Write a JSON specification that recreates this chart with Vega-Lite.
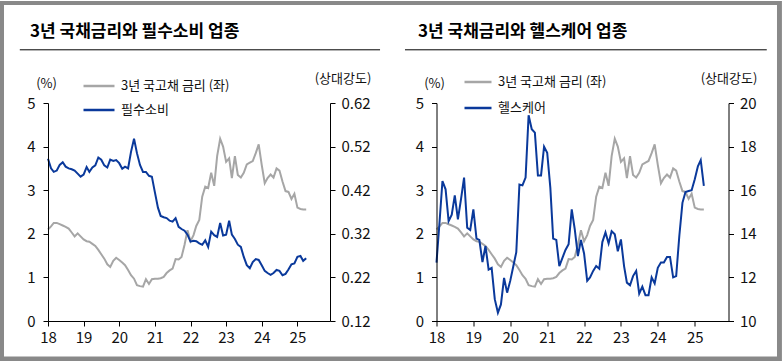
{
  "$schema": "https://vega.github.io/schema/vega-lite/v6.json",
  "background": "white",
  "padding": 0,
  "bounds": "flush",
  "data": {"values": [
    {"d":"2018-01-01","r":2.10,"s":0.492,"h":12.68},
    {"d":"2018-02-01","r":2.17,"s":0.470,"h":14.60},
    {"d":"2018-03-01","r":2.25,"s":0.462,"h":16.42},
    {"d":"2018-04-01","r":2.25,"s":0.465,"h":16.04},
    {"d":"2018-05-01","r":2.22,"s":0.478,"h":14.58},
    {"d":"2018-06-01","r":2.19,"s":0.484,"h":14.88},
    {"d":"2018-07-01","r":2.16,"s":0.474,"h":15.76},
    {"d":"2018-08-01","r":2.12,"s":0.470,"h":14.66},
    {"d":"2018-09-01","r":2.03,"s":0.468,"h":15.60},
    {"d":"2018-10-01","r":1.94,"s":0.465,"h":16.58},
    {"d":"2018-11-01","r":2.01,"s":0.458,"h":14.28},
    {"d":"2018-12-01","r":1.94,"s":0.451,"h":14.18},
    {"d":"2019-01-01","r":1.87,"s":0.456,"h":15.12},
    {"d":"2019-02-01","r":1.83,"s":0.473,"h":13.78},
    {"d":"2019-03-01","r":1.82,"s":0.462,"h":13.72},
    {"d":"2019-04-01","r":1.77,"s":0.472,"h":12.70},
    {"d":"2019-05-01","r":1.72,"s":0.477,"h":13.44},
    {"d":"2019-06-01","r":1.63,"s":0.495,"h":12.36},
    {"d":"2019-07-01","r":1.53,"s":0.490,"h":12.44},
    {"d":"2019-08-01","r":1.43,"s":0.477,"h":11.00},
    {"d":"2019-09-01","r":1.30,"s":0.472,"h":10.38},
    {"d":"2019-10-01","r":1.24,"s":0.490,"h":10.76},
    {"d":"2019-11-01","r":1.38,"s":0.487,"h":11.98},
    {"d":"2019-12-01","r":1.45,"s":0.489,"h":11.30},
    {"d":"2020-01-01","r":1.40,"s":0.482,"h":11.84},
    {"d":"2020-02-01","r":1.34,"s":0.469,"h":12.52},
    {"d":"2020-03-01","r":1.28,"s":0.474,"h":13.16},
    {"d":"2020-04-01","r":1.17,"s":0.470,"h":16.26},
    {"d":"2020-05-01","r":1.05,"s":0.508,"h":16.22},
    {"d":"2020-06-01","r":0.97,"s":0.538,"h":16.58},
    {"d":"2020-07-01","r":0.82,"s":0.505,"h":19.44},
    {"d":"2020-08-01","r":0.80,"s":0.478,"h":18.80},
    {"d":"2020-09-01","r":0.79,"s":0.462,"h":18.64},
    {"d":"2020-10-01","r":0.96,"s":0.462,"h":16.68},
    {"d":"2020-11-01","r":0.85,"s":0.453,"h":16.68},
    {"d":"2020-12-01","r":0.96,"s":0.451,"h":18.00},
    {"d":"2021-01-01","r":0.97,"s":0.415,"h":17.72},
    {"d":"2021-02-01","r":0.97,"s":0.380,"h":16.12},
    {"d":"2021-03-01","r":0.98,"s":0.361,"h":13.78},
    {"d":"2021-04-01","r":1.01,"s":0.358,"h":13.72},
    {"d":"2021-05-01","r":1.10,"s":0.356,"h":12.52},
    {"d":"2021-06-01","r":1.16,"s":0.350,"h":12.90},
    {"d":"2021-07-01","r":1.20,"s":0.348,"h":13.26},
    {"d":"2021-08-01","r":1.42,"s":0.356,"h":13.52},
    {"d":"2021-09-01","r":1.41,"s":0.336,"h":15.12},
    {"d":"2021-10-01","r":1.47,"s":0.331,"h":14.20},
    {"d":"2021-11-01","r":1.75,"s":0.327,"h":12.98},
    {"d":"2021-12-01","r":2.08,"s":0.318,"h":13.72},
    {"d":"2022-01-01","r":1.83,"s":0.302,"h":13.10},
    {"d":"2022-02-01","r":1.97,"s":0.304,"h":11.84},
    {"d":"2022-03-01","r":2.18,"s":0.303,"h":12.00},
    {"d":"2022-04-01","r":2.32,"s":0.298,"h":12.30},
    {"d":"2022-05-01","r":2.85,"s":0.295,"h":12.52},
    {"d":"2022-06-01","r":3.08,"s":0.305,"h":12.40},
    {"d":"2022-07-01","r":3.05,"s":0.290,"h":13.62},
    {"d":"2022-08-01","r":3.40,"s":0.325,"h":14.06},
    {"d":"2022-09-01","r":3.10,"s":0.317,"h":13.56},
    {"d":"2022-10-01","r":3.78,"s":0.313,"h":14.12},
    {"d":"2022-11-01","r":4.18,"s":0.345,"h":13.98},
    {"d":"2022-12-01","r":4.00,"s":0.316,"h":13.20},
    {"d":"2023-01-01","r":3.65,"s":0.318,"h":13.74},
    {"d":"2023-02-01","r":3.73,"s":0.350,"h":12.52},
    {"d":"2023-03-01","r":3.28,"s":0.318,"h":11.76},
    {"d":"2023-04-01","r":3.78,"s":0.308,"h":11.64},
    {"d":"2023-05-01","r":3.35,"s":0.295,"h":12.06},
    {"d":"2023-06-01","r":3.29,"s":0.290,"h":12.30},
    {"d":"2023-07-01","r":3.40,"s":0.267,"h":11.26},
    {"d":"2023-08-01","r":3.59,"s":0.248,"h":11.58},
    {"d":"2023-09-01","r":3.63,"s":0.241,"h":11.18},
    {"d":"2023-10-01","r":3.67,"s":0.255,"h":11.18},
    {"d":"2023-11-01","r":3.85,"s":0.262,"h":12.00},
    {"d":"2023-12-01","r":4.05,"s":0.260,"h":11.72},
    {"d":"2024-01-01","r":3.58,"s":0.248,"h":12.44},
    {"d":"2024-02-01","r":3.16,"s":0.235,"h":12.68},
    {"d":"2024-03-01","r":3.28,"s":0.230,"h":12.68},
    {"d":"2024-04-01","r":3.36,"s":0.226,"h":12.94},
    {"d":"2024-05-01","r":3.29,"s":0.230,"h":12.94},
    {"d":"2024-06-01","r":3.50,"s":0.237,"h":12.00},
    {"d":"2024-07-01","r":3.45,"s":0.235,"h":12.06},
    {"d":"2024-08-01","r":3.20,"s":0.225,"h":13.90},
    {"d":"2024-09-01","r":2.98,"s":0.228,"h":15.42},
    {"d":"2024-10-01","r":2.96,"s":0.238,"h":15.92},
    {"d":"2024-11-01","r":2.80,"s":0.250,"h":15.96},
    {"d":"2024-12-01","r":2.92,"s":0.252,"h":16.00},
    {"d":"2025-01-01","r":2.60,"s":0.267,"h":16.50},
    {"d":"2025-02-01","r":2.57,"s":0.269,"h":17.10},
    {"d":"2025-03-01","r":2.56,"s":0.258,"h":17.38},
    {"d":"2025-04-01","r":2.56,"s":0.264,"h":16.20}
  ]},
  "hconcat": [
    {
      "width": 282,
      "height": 218,
      "title": {"text": "3년 국채금리와 필수소비 업종", "anchor": "start", "frame": "group", "dx": -18, "offset": -40.3},
      "layer": [
        {
          "layer": [
            {
              "data": {"values": [{}]},
              "mark": {"type": "rect", "color": "#898989", "clip": false},
              "encoding": {
                "x": {"datum": {"year": 2016, "month": 8, "date": 27, "utc": true}, "type": "temporal", "scale": {"type": "utc", "domain": [{"year": 2018, "month": 1, "date": 1, "utc": true}, {"year": 2025, "month": 12, "date": 1, "utc": true}]}},
                "x2": {"datum": {"year": 2038, "month": 8, "date": 8, "utc": true}},
                "y": {"datum": 7.33945, "type": "quantitative", "scale": {"domain": [0, 5]}},
                "y2": {"datum": -0.94037}
              }
            },
            {
              "data": {"values": [{}]},
              "mark": {"type": "rect", "color": "#ffffff", "clip": false},
              "encoding": {
                "x": {"datum": {"year": 2016, "month": 10, "date": 7, "utc": true}, "type": "temporal", "scale": {"type": "utc", "domain": [{"year": 2018, "month": 1, "date": 1, "utc": true}, {"year": 2025, "month": 12, "date": 1, "utc": true}]}},
                "x2": {"datum": {"year": 2038, "month": 6, "date": 18, "hours": 12, "utc": true}},
                "y": {"datum": 7.24771, "type": "quantitative", "scale": {"domain": [0, 5]}},
                "y2": {"datum": -0.81422}
              }
            },
            {
              "mark": {"type": "line", "strokeWidth": 2},
              "encoding": {
                "x": {"field": "d", "type": "temporal", "scale": {"type": "utc", "domain": [{"year": 2018, "month": 1, "date": 1, "utc": true}, {"year": 2025, "month": 12, "date": 1, "utc": true}]}, "axis": {"zindex": 1, "format": "%y", "tickCount": {"interval": "year", "step": 1}, "title": null, "labelPadding": 4, "labelDx": 2}},
                "y": {"field": "r", "type": "quantitative", "scale": {"domain": [0, 5]}, "axis": {"zindex": 1, "orient": "left", "values": [0, 1, 2, 3, 4, 5], "title": "(%)", "titleX": -2, "titleY": -20, "labelPadding": 8}},
                "color": {"datum": "3년 국고채 금리 (좌)", "type": "nominal", "scale": {"domain": ["3년 국고채 금리 (좌)", "필수소비"], "range": ["#a6a6a6", "#0a399b"]}, "legend": {"orient": "none", "legendX": 34, "legendY": -34, "rowPadding": -7.5, "symbolSize": 961}}
              }
            },
            {
              "data": {"values": [{}]},
              "mark": {"type": "rule", "color": "#000000", "strokeWidth": 1, "clip": false},
              "encoding": {
                "x": {"datum": {"year": 2017, "month": 3, "date": 18, "utc": true}, "type": "temporal", "scale": {"type": "utc", "domain": [{"year": 2018, "month": 1, "date": 1, "utc": true}, {"year": 2025, "month": 12, "date": 1, "utc": true}]}},
                "x2": {"datum": {"year": 2027, "month": 4, "date": 28, "utc": true}},
                "y": {"datum": 6.22, "type": "quantitative", "scale": {"domain": [0, 5]}}
              }
            }
          ]
        },
        {
          "mark": {"type": "line", "strokeWidth": 2},
          "encoding": {
            "x": {"field": "d", "type": "temporal"},
            "y": {"field": "s", "type": "quantitative", "scale": {"domain": [0.12, 0.62], "zero": false}, "axis": {"zindex": 1, "orient": "right", "values": [0.12, 0.22, 0.32, 0.42, 0.52, 0.62], "format": ".2f", "title": "(상대강도)", "titleX": 12.5, "titleY": -25, "labelPadding": 6}},
            "color": {"datum": "필수소비", "type": "nominal"}
          }
        }
      ],
      "resolve": {"scale": {"y": "independent"}}
    },
    {
      "width": 292,
      "height": 218,
      "title": {"text": "3년 국채금리와 헬스케어 업종", "anchor": "start", "frame": "group", "dx": -18.5, "offset": 8},
      "layer": [
        {
          "layer": [
            {
              "mark": {"type": "line", "strokeWidth": 2},
              "encoding": {
                "x": {"field": "d", "type": "temporal", "scale": {"type": "utc", "domain": [{"year": 2018, "month": 1, "date": 1, "utc": true}, {"year": 2025, "month": 12, "date": 1, "utc": true}]}, "axis": {"zindex": 1, "format": "%y", "tickCount": {"interval": "year", "step": 1}, "title": null, "labelPadding": 4, "labelDx": 2}},
                "y": {"field": "r", "type": "quantitative", "scale": {"domain": [0, 5]}, "axis": {"zindex": 1, "orient": "left", "values": [0, 1, 2, 3, 4, 5], "title": "(%)", "titleX": -2.5, "titleY": -20, "labelPadding": 8}},
                "color": {"datum": "3년 국고채 금리 (좌)", "type": "nominal", "scale": {"domain": ["3년 국고채 금리 (좌)", "헬스케어"], "range": ["#a6a6a6", "#0a399b"]}, "legend": {"orient": "none", "legendX": 26.5, "legendY": -36, "rowPadding": 4, "symbolSize": 729}}
              }
            },
            {
              "data": {"values": [{}]},
              "mark": {"type": "rule", "color": "#000000", "strokeWidth": 1, "clip": false},
              "encoding": {
                "x": {"datum": {"year": 2017, "month": 2, "date": 23, "utc": true}, "type": "temporal", "scale": {"type": "utc", "domain": [{"year": 2018, "month": 1, "date": 1, "utc": true}, {"year": 2025, "month": 12, "date": 1, "utc": true}]}},
                "x2": {"datum": {"year": 2026, "month": 12, "date": 15, "utc": true}},
                "y": {"datum": 6.22, "type": "quantitative", "scale": {"domain": [0, 5]}}
              }
            }
          ]
        },
        {
          "mark": {"type": "line", "strokeWidth": 2},
          "encoding": {
            "x": {"field": "d", "type": "temporal"},
            "y": {"field": "h", "type": "quantitative", "scale": {"domain": [10, 20], "zero": false}, "axis": {"zindex": 1, "orient": "right", "values": [10, 12, 14, 16, 18, 20], "title": "(상대강도)", "titleX": 0, "titleY": -25, "labelPadding": 6}},
            "color": {"datum": "헬스케어", "type": "nominal"}
          }
        }
      ],
      "resolve": {"scale": {"y": "independent"}}
    }
  ],
  "spacing": 106.5,
  "resolve": {"scale": {"color": "independent", "x": "independent", "y": "independent"}, "legend": {"color": "independent"}},
  "config": {
    "font": "Noto Sans CJK KR",
    "view": {"stroke": null},
    "axis": {
      "grid": false,
      "domainColor": "#000000",
      "domainWidth": 1,
      "tickColor": "#000000",
      "tickWidth": 1,
      "tickSize": 5,
      "labelColor": "#111111",
      "labelFont": "Noto Sans CJK KR",
      "labelFontSize": 15,
      "labelFlush": false,
      "labelOverlap": false,
      "titleFont": "Noto Sans CJK KR",
      "titleFontSize": 13,
      "titleFontWeight": "normal",
      "titleColor": "#111111",
      "titleAngle": 0,
      "titleAlign": "center",
      "titleBaseline": "middle"
    },
    "legend": {
      "title": null,
      "symbolType": "stroke",
      "symbolStrokeWidth": 2.5,
      "labelFont": "Noto Sans CJK KR",
      "labelFontSize": 13,
      "labelColor": "#111111",
      "labelOffset": 5,
      "padding": 0
    },
    "title": {
      "font": "Noto Sans CJK KR",
      "fontSize": 17,
      "fontWeight": "bold",
      "color": "#000000"
    }
  }
}
